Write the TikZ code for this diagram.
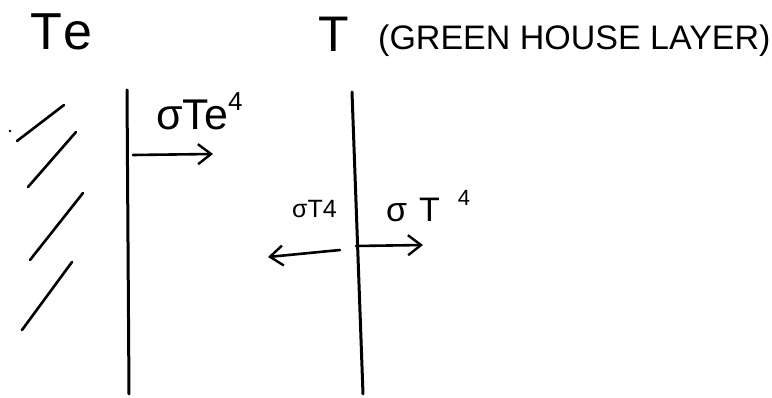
\documentclass[tikz,border=0pt]{standalone}
\usepackage{fontspec}
\setmainfont{Liberation Sans}
\usetikzlibrary{arrows.meta}
\tikzset{
  pen/.style={line width=2.6pt, line cap=round, line join=round, black},
  wall/.style={line width=3pt, line cap=round, black},
  flux/.style={pen, -{Straight Barb[length=13pt,width=20pt,line width=2.4pt]}},
  lbl/.style={inner sep=0pt, anchor=base west, text=black}
}
\begin{document}
\begin{tikzpicture}[x=1pt,y=-1pt]
\useasboundingbox (0,0) rectangle (772,398);
% labels
\node[lbl] (te) at (30,50) {\fontsize{52}{52}\selectfont T\hspace{2pt}e};
\node[lbl] (tt) at (318,52) {\fontsize{50}{50}\selectfont T};
\node[lbl] (gh) at (378,50) {\fontsize{34}{34}\selectfont (GREEN HOUSE LAYER)};
\node[lbl] (ste) at (156,130) {\fontsize{43}{43}\selectfont σTe\raisebox{19pt}{\fontsize{26}{26}\selectfont 4}};
\node[lbl] (stl) at (292,218) {\fontsize{25}{25}\selectfont σT4};
\node[lbl] (str) at (386,222) {\fontsize{34}{34}\selectfont σ\hspace{12pt}T\hspace{18pt}\raisebox{16pt}{\fontsize{22}{22}\selectfont 4}};
% walls
\coordinate (w1t) at (127,90); \coordinate (w1b) at (129,394);
\coordinate (w2t) at (352,92); \coordinate (w2b) at (363,394);
\draw[wall] (w1t) -- (w1b);
\draw[wall] (w2t) -- (w2b);
% hatching
\coordinate (h1a) at (17,141); \coordinate (h1b) at (64,105);
\coordinate (h2a) at (28,187); \coordinate (h2b) at (76,132);
\coordinate (h3a) at (30,260); \coordinate (h3b) at (83,193);
\coordinate (h4a) at (22,330); \coordinate (h4b) at (72,262);
\draw[pen] (h1a) -- (h1b);
\draw[pen] (h2a) -- (h2b);
\draw[pen] (h3a) -- (h3b);
\draw[pen] (h4a) -- (h4b);
\coordinate (dot) at (10,131);
\fill (dot) circle (1.3pt);
% arrows
\coordinate (a1s) at (133,155); \coordinate (a1e) at (213,154);
\coordinate (a2s) at (356,246); \coordinate (a2e) at (423,245);
\coordinate (a3s) at (340,250); \coordinate (a3e) at (268,257);
\draw[flux] (a1s) -- (a1e);
\draw[flux] (a2s) -- (a2e);
\draw[flux] (a3s) -- (a3e);
\end{tikzpicture}
\end{document}
